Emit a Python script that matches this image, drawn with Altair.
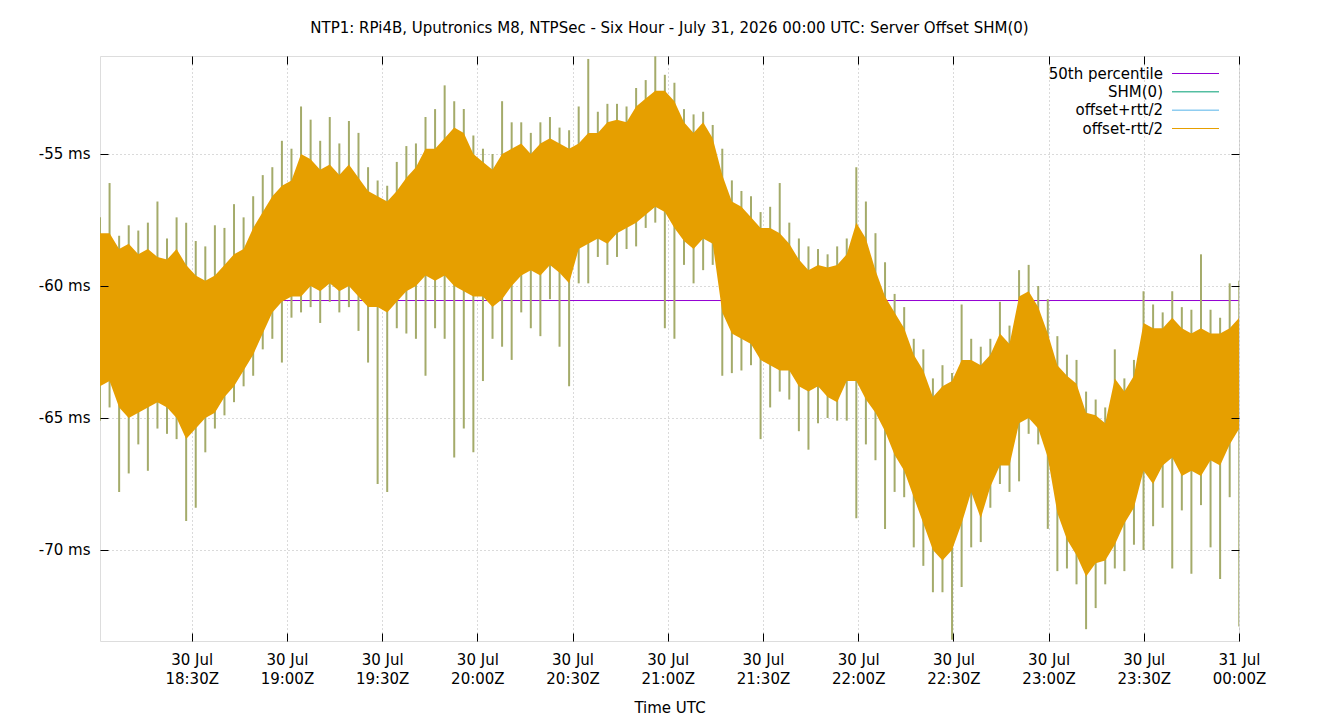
import altair as alt
import pandas as pd

TITLE = "NTP1: RPi4B, Uputronics M8, NTPSec - Six Hour - July 31, 2026 00:00 UTC: Server Offset SHM(0)"
FONT = "DejaVu Sans"

# sampling grid (one reading every 181 s, starting at the left edge of the plot)
start_ts = pd.Timestamp("2026-07-30T18:01:06")
step_seconds = 181

# dense orange body of the offset trace (ms)
body_hi = [
    -58.0, -58.0, -58.6, -58.4, -58.8, -58.6, -58.9, -59.0, -58.6, -59.2,
    -59.6, -59.8, -59.6, -59.2, -58.8, -58.6, -57.8, -57.2, -56.6, -56.2,
    -56.0, -55.0, -55.2, -55.6, -55.4, -55.8, -55.4, -55.9, -56.4, -56.6,
    -56.8, -56.4, -55.9, -55.5, -54.8, -54.8, -54.4, -54.0, -54.2, -55.0,
    -55.3, -55.6, -55.0, -54.8, -54.6, -55.0, -54.6, -54.4, -54.6, -54.8,
    -54.6, -54.2, -54.2, -53.8, -53.7, -53.8, -53.2, -52.9, -52.6, -52.6,
    -53.0, -53.8, -54.2, -53.8, -54.4, -55.8, -56.8, -57.0, -57.4, -57.8,
    -57.8, -58.0, -58.4, -59.0, -59.4, -59.2, -59.3, -59.2, -58.8, -57.6,
    -58.2, -59.4, -60.4, -61.0, -61.6, -62.6, -63.2, -64.2, -63.8, -63.6,
    -62.8, -62.8, -63.0, -62.6, -61.8, -62.2, -60.4, -60.2, -60.8, -61.8,
    -63.0, -63.4, -63.7, -64.8, -64.9, -65.2, -63.5, -64.0, -63.4, -61.4,
    -61.6, -61.6, -61.2, -61.6, -61.8, -61.6, -61.8, -61.8, -61.6, -61.2,
]
body_lo = [
    -63.8, -63.6, -64.6, -65.0, -64.8, -64.6, -64.4, -64.6, -65.0, -65.8,
    -65.4, -65.0, -64.8, -64.2, -63.8, -63.2, -62.6, -61.8, -61.0, -60.6,
    -60.4, -60.4, -60.0, -60.2, -59.9, -60.2, -60.0, -60.4, -60.8, -60.8,
    -61.0, -60.6, -60.2, -60.0, -59.6, -59.8, -59.6, -60.0, -60.2, -60.4,
    -60.4, -60.8, -60.5, -60.0, -59.6, -59.4, -59.6, -59.2, -59.5, -59.9,
    -58.6, -58.4, -58.2, -58.4, -58.0, -57.8, -57.6, -57.3, -57.0, -57.2,
    -57.8, -58.3, -58.6, -58.2, -58.4, -61.0, -61.8, -62.0, -62.2, -62.8,
    -63.0, -63.2, -63.2, -63.8, -64.0, -63.8, -64.2, -64.4, -63.6, -63.6,
    -64.3, -64.8, -65.5, -66.4, -67.0, -68.0, -69.0, -70.0, -70.4, -70.0,
    -69.0, -67.8, -68.8, -67.6, -66.8, -66.8, -65.2, -65.0, -65.4, -66.5,
    -68.6, -69.6, -70.2, -71.0, -70.5, -70.4, -69.8, -69.0, -68.4, -67.0,
    -67.5, -66.8, -66.5, -67.2, -67.0, -67.2, -66.6, -66.8, -66.0, -65.4,
]
# outer spikes of the overlapping traces (ms)
spike_hi = [
    -57.4, -56.1, -58.1, -57.7, -57.9, -57.6, -56.8, -58.2, -57.4, -57.6,
    -58.3, -58.5, -57.7, -57.8, -56.9, -57.4, -56.6, -55.8, -55.5, -54.5,
    -54.8, -53.2, -53.7, -54.5, -53.6, -54.6, -53.75, -54.2, -55.5, -56.0,
    -56.2, -55.3, -54.7, -54.6, -53.6, -53.3, -52.4, -53.0, -53.3, -54.3,
    -54.8, -55.0, -53.0, -53.8, -53.8, -54.2, -53.8, -53.6, -54.0, -54.1,
    -53.2, -51.4, -53.4, -53.1, -53.1, -53.2, -52.5, -52.2, -51.3, -52.0,
    -52.3, -53.3, -53.5, -53.4, -53.9, -54.8, -56.0, -56.4, -56.6, -57.2,
    -57.0, -56.1, -57.6, -58.2, -58.5, -58.6, -58.8, -58.5, -58.2, -55.5,
    -56.8, -58.0, -59.1, -60.3, -60.8, -62.0, -62.4, -63.5, -63.0, -63.3,
    -60.7, -62.0, -62.3, -62.0, -60.6, -61.5, -59.4, -59.2, -60.0, -60.5,
    -61.9, -62.6, -62.8, -64.0, -64.3, -64.6, -62.4, -63.5, -62.8, -60.2,
    -60.7, -61.0, -60.2, -60.8, -60.9, -58.8, -60.9, -61.2, -59.9, -59.8,
]
spike_lo = [
    -65.1, -64.6, -67.8, -67.1, -66.0, -67.0, -65.4, -65.6, -65.8, -68.9,
    -68.4, -66.3, -65.4, -64.9, -64.4, -63.8, -63.4, -62.4, -62.0, -62.9,
    -61.2, -61.0, -60.8, -61.4, -60.6, -61.0, -60.8, -61.7, -62.9, -67.5,
    -67.8, -61.6, -61.8, -62.0, -63.4, -61.6, -62.0, -66.5, -65.4, -66.3,
    -63.6, -62.0, -62.3, -62.8, -61.0, -61.6, -61.9, -60.5, -62.3, -63.8,
    -59.9, -59.9, -58.9, -59.2, -58.9, -58.6, -58.5, -57.8, -57.6, -61.6,
    -62.0, -59.2, -59.9, -59.4, -59.2, -63.4, -63.3, -63.2, -63.0, -65.8,
    -64.6, -64.0, -64.3, -65.5, -66.2, -65.2, -65.0, -65.1, -65.1, -68.8,
    -66.0, -66.6, -69.2, -67.8, -68.0, -69.9, -70.6, -71.6, -71.6, -73.4,
    -71.4, -69.9, -69.7, -68.4, -67.5, -67.8, -67.4, -65.6, -66.0, -69.2,
    -70.8, -70.7, -71.3, -73.0, -72.2, -71.3, -70.7, -70.8, -69.8, -70.0,
    -69.1, -68.4, -70.7, -68.5, -70.9, -68.3, -69.9, -71.1, -68.0, -72.9,
]
median_ms = -60.55

series_names = ["50th percentile", "SHM(0)", "offset+rtt/2", "offset-rtt/2"]
series_colors = ["#9400d3", "#009e73", "#56b4e9", "#e69f00"]
spike_color = "#a4ab6a"

x_tick_hours = [(30, 18, 30), (30, 19, 0), (30, 19, 30), (30, 20, 0), (30, 20, 30), (30, 21, 0),
                (30, 21, 30), (30, 22, 0), (30, 22, 30), (30, 23, 0), (30, 23, 30), (31, 0, 0)]
y_ticks = [-55, -60, -65, -70]
y_domain = [-73.447, -51.288]

# ---------------------------------------------------------------------------
times = [(start_ts + pd.Timedelta(seconds=step_seconds * i)).strftime("%Y-%m-%dT%H:%M:%SZ")
         for i in range(len(body_hi))]
df = pd.DataFrame({"t": times, "body_hi": body_hi, "body_lo": body_lo,
                   "spike_hi": spike_hi, "spike_lo": spike_lo})
median_df = pd.DataFrame({"t0": [times[0]], "t1": ["2026-07-31T00:00:00Z"], "v": [median_ms]})
legend_df = pd.DataFrame({"series": series_names, "colour": series_colors})

x_dom = [alt.DateTime(year=2026, month=7, date=30, hours=18, minutes=1, seconds=6, utc=True),
         alt.DateTime(year=2026, month=7, date=31, hours=0, minutes=0, seconds=0, utc=True)]
x_vals = [alt.DateTime(year=2026, month=7, date=d, hours=h, minutes=m, utc=True) for d, h, m in x_tick_hours]
xscale = alt.Scale(type="utc", domain=x_dom)
yscale = alt.Scale(domain=y_domain, nice=False, zero=False)

grid_kw = dict(grid=True, gridColor="#b4b4b4", gridDash=[1, 3], gridWidth=1)
lab_kw = dict(labelFont=FONT, labelFontSize=15, labelColor="black")

x_main = alt.Axis(orient="bottom", values=x_vals,
                  labelExpr="[utcFormat(datum.value, '%d %b'), utcFormat(datum.value, '%H:%MZ')]",
                  labelLineHeight=19, labelPadding=11, labelAngle=0, labelOverlap=False,
                  labelFlush=False, tickSize=0, domain=False, title="Time UTC",
                  titleFont=FONT, titleFontSize=15, titleFontWeight="normal", titleColor="black",
                  titlePadding=14, **lab_kw, **grid_kw)
y_main = alt.Axis(orient="left", values=y_ticks, labelExpr="datum.value + ' ms'",
                  labelPadding=10, tickSize=0, domain=False, title=None, **lab_kw, **grid_kw)


def tick_axis(orient, vals):
    return alt.Axis(orient=orient, values=vals, offset=-8, tickSize=8, tickColor="black",
                    tickWidth=1, labels=False, domain=False, grid=False, title=None, zindex=1)


median = alt.Chart(median_df).mark_rule(color=series_colors[0], strokeWidth=1).encode(
    x=alt.X("t0:T", scale=xscale, axis=tick_axis("bottom", x_vals)),
    x2="t1:T",
    y=alt.Y("v:Q", scale=yscale, axis=tick_axis("left", y_ticks)),
)

spikes = alt.Chart(df).mark_rule(color=spike_color, strokeWidth=2, clip=True).encode(
    x=alt.X("t:T", scale=xscale, axis=x_main),
    y=alt.Y("spike_lo:Q", scale=yscale, axis=y_main),
    y2="spike_hi:Q",
)

body = alt.Chart(df).mark_area(color=series_colors[3], opacity=1, clip=True).encode(
    x=alt.X("t:T", scale=xscale, axis=tick_axis("top", x_vals)),
    y=alt.Y("body_lo:Q", scale=yscale, axis=tick_axis("right", y_ticks)),
    y2="body_hi:Q",
)

# key in the top-right corner, gnuplot style (text left, line sample right)
key_y = alt.Y("series:N", axis=None,
              scale=alt.Scale(type="point", domain=series_names, range=[17.5, 72.5], padding=0))
key_lines = alt.Chart(legend_df).mark_rule(strokeWidth=1).encode(
    x=alt.value(1072), x2=alt.value(1119), y=key_y,
    color=alt.Color("colour:N", scale=None, legend=None),
)
key_text = alt.Chart(legend_df).mark_text(align="right", baseline="middle", font=FONT,
                                          fontSize=15, color="black").encode(
    x=alt.value(1063), y=key_y, text="series:N",
)

chart = alt.layer(median, spikes, body, key_lines, key_text).resolve_axis(
    x="independent", y="independent"
).resolve_scale(y="independent").properties(
    width=1139, height=585,
    title=alt.TitleParams(TITLE, font=FONT, fontSize=15, fontWeight="normal", color="black",
                          anchor="middle", baseline="bottom", offset=5),
    autosize=alt.AutoSizeParams(type="none"),
    padding={"left": 100, "top": 56, "right": 101, "bottom": 79},
).configure_view(stroke="black", strokeWidth=1).configure(background="white")

chart.save("out.html", embed_options={"renderer": "svg", "actions": False})
